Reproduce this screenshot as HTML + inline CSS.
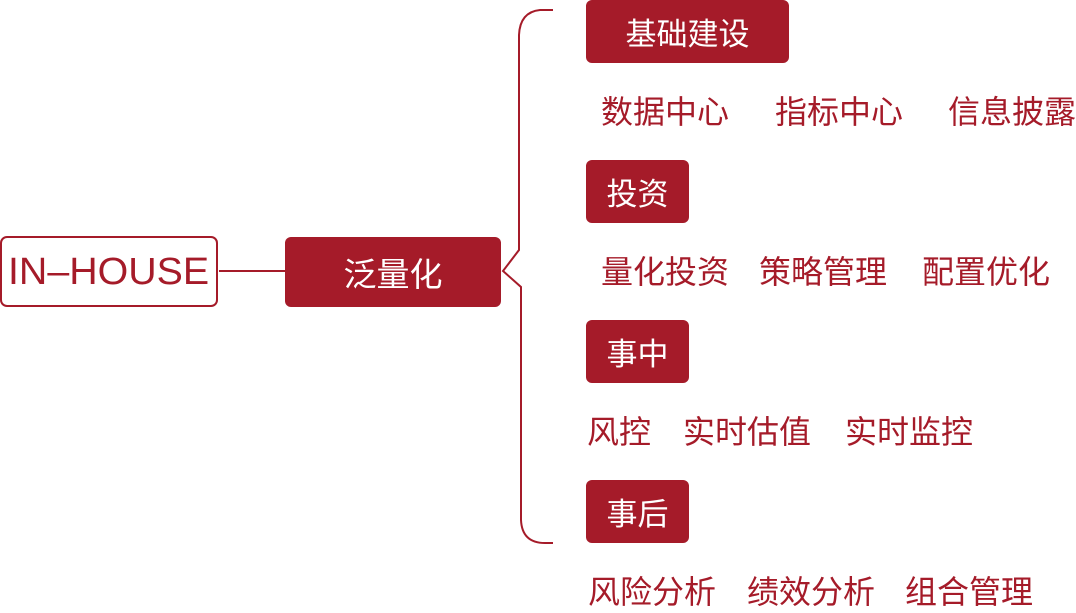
<!DOCTYPE html>
<html><head><meta charset="utf-8"><style>
body{margin:0;width:1076px;height:612px;background:#fff;position:relative;overflow:hidden;font-family:"Liberation Sans","Noto Sans CJK SC",sans-serif;}
.t{position:absolute;color:#a51b29;font-size:32px;line-height:36px;white-space:nowrap;font-family:"Noto Sans CJK SC",sans-serif;}
.b{position:absolute;background:#a51b29;color:#fff;border-radius:6px;font-size:31px;display:flex;align-items:center;justify-content:center;font-family:"Noto Sans CJK SC",sans-serif;}
</style></head><body>
<svg width="1076" height="612" style="position:absolute;left:0;top:0">
<g fill="none" stroke="#a51b29" stroke-width="2">
<line x1="219" y1="271" x2="285" y2="271"/>
<path d="M553 10 L540 10 Q520 12 519 35 L519 250 L503 271 L521 287 L521 520 Q522 543 545 543 L553 543"/>
</g>
<rect x="1" y="237" width="216" height="69" rx="6" fill="#fff" stroke="#a51b29" stroke-width="2"/>
</svg>
<div class="t" style="left:8px;top:253px;font-family:'Liberation Sans',sans-serif;font-size:38px;line-height:38px;transform:scaleX(1.035);transform-origin:left;">IN–HOUSE</div>
<div class="b" style="left:285px;top:237px;width:216px;height:70px;font-size:33px;">泛量化</div>
<div class="b" style="left:586px;top:0;width:203px;height:63px;">基础建设</div>
<div class="b" style="left:586px;top:160px;width:103px;height:63px;">投资</div>
<div class="b" style="left:586px;top:320px;width:103px;height:63px;">事中</div>
<div class="b" style="left:586px;top:480px;width:103px;height:63px;">事后</div>
<div class="t" style="left:601px;top:92px">数据中心</div>
<div class="t" style="left:775px;top:92px">指标中心</div>
<div class="t" style="left:948px;top:92px">信息披露</div>
<div class="t" style="left:601px;top:252px">量化投资</div>
<div class="t" style="left:759px;top:252px">策略管理</div>
<div class="t" style="left:922px;top:252px">配置优化</div>
<div class="t" style="left:587px;top:412px">风控</div>
<div class="t" style="left:683px;top:412px">实时估值</div>
<div class="t" style="left:845px;top:412px">实时监控</div>
<div class="t" style="left:588px;top:572px">风险分析</div>
<div class="t" style="left:747px;top:572px">绩效分析</div>
<div class="t" style="left:905px;top:572px">组合管理</div>
</body></html>
